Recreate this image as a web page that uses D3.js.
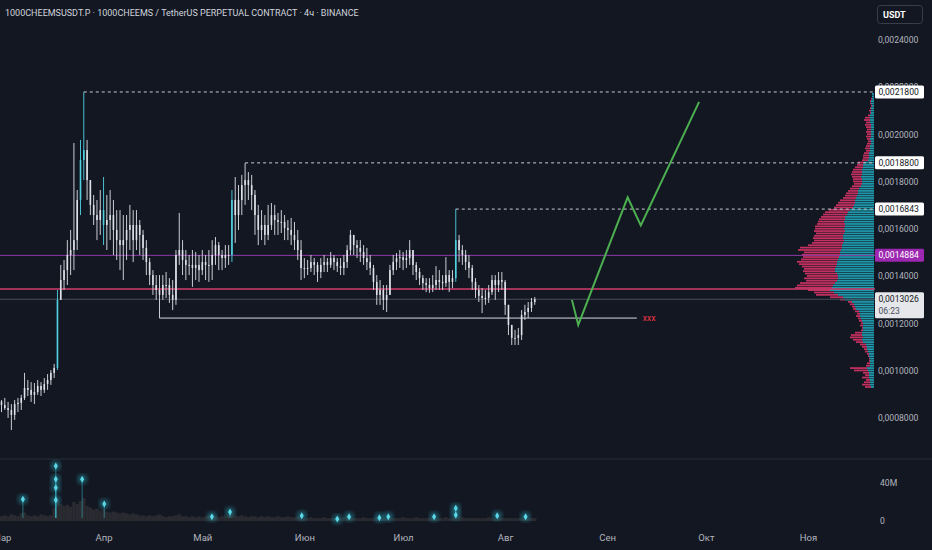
<!DOCTYPE html>
<meta charset="utf-8">
<script src="https://d3js.org/d3.v7.min.js"></script>
<style>
body { margin: 0; background: #131722; }
svg { display: block; }
text { font-family: Roboto, "Noto Sans", sans-serif; }
</style>
<div id="chart"></div>
<script>
const W = 932, H = 550;

// daily bars from 1 March 2024
const startDate = new Date(2024, 2, 1);
const firstOpen = 0.000870;
const highs = [
  0.000876,0.000885,0.000868,0.000859,0.000876,0.000885,0.000898,0.000991,0.000961,0.000952,
  0.000948,0.000961,0.000952,0.000969,0.000986,0.001003,0.001029,0.001342,0.001448,0.001469,
  0.001553,0.001596,0.001964,0.001765,0.001977,0.002180,0.001977,0.001807,0.001744,0.001723,
  0.001765,0.001820,0.001744,0.001765,0.001723,0.001680,0.001680,0.001659,0.001659,0.001702,
  0.001680,0.001680,0.001638,0.001596,0.001553,0.001477,0.001426,0.001405,0.001405,0.001405,
  0.001418,0.001392,0.001384,0.001511,0.001668,0.001553,0.001511,0.001490,0.001511,0.001503,
  0.001490,0.001511,0.001490,0.001511,0.001553,0.001566,0.001545,0.001511,0.001532,0.001532,
  0.001765,0.001820,0.001786,0.001829,0.001879,0.001841,0.001829,0.001765,0.001702,0.001680,
  0.001659,0.001702,0.001710,0.001702,0.001668,0.001680,0.001659,0.001638,0.001647,0.001630,
  0.001596,0.001553,0.001477,0.001469,0.001490,0.001477,0.001460,0.001477,0.001490,0.001477,
  0.001503,0.001490,0.001477,0.001477,0.001490,0.001532,0.001596,0.001575,0.001553,0.001553,
  0.001532,0.001520,0.001490,0.001448,0.001405,0.001384,0.001363,0.001363,0.001448,0.001490,
  0.001498,0.001511,0.001503,0.001511,0.001553,0.001511,0.001460,0.001435,0.001405,0.001392,
  0.001392,0.001405,0.001443,0.001426,0.001405,0.001481,0.001426,0.001426,0.001685,0.001575,
  0.001532,0.001511,0.001490,0.001448,0.001392,0.001363,0.001350,0.001342,0.001363,0.001405,
  0.001405,0.001418,0.001418,0.001384,0.001279,0.001194,0.001173,0.001181,0.001257,0.001279,
  0.001291,0.001308,0.001312
];
const lows = [
  0.000825,0.000834,0.000800,0.000749,0.000792,0.000825,0.000834,0.000876,0.000893,0.000868,
  0.000859,0.000898,0.000893,0.000906,0.000919,0.000940,0.000969,0.001003,0.001300,0.001342,
  0.001363,0.001405,0.001426,0.001511,0.001659,0.001807,0.001723,0.001659,0.001617,0.001553,
  0.001575,0.001532,0.001511,0.001553,0.001490,0.001469,0.001426,0.001384,0.001469,0.001511,
  0.001460,0.001511,0.001490,0.001469,0.001405,0.001363,0.001321,0.001300,0.001223,0.001300,
  0.001308,0.001287,0.001257,0.001279,0.001448,0.001405,0.001384,0.001405,0.001355,0.001384,
  0.001376,0.001405,0.001384,0.001376,0.001384,0.001448,0.001426,0.001426,0.001435,0.001448,
  0.001460,0.001541,0.001596,0.001659,0.001702,0.001723,0.001680,0.001575,0.001532,0.001553,
  0.001532,0.001553,0.001596,0.001575,0.001575,0.001583,0.001553,0.001553,0.001532,0.001511,
  0.001469,0.001384,0.001392,0.001405,0.001418,0.001405,0.001376,0.001392,0.001418,0.001418,
  0.001435,0.001426,0.001418,0.001405,0.001405,0.001435,0.001490,0.001490,0.001477,0.001460,
  0.001448,0.001426,0.001405,0.001342,0.001279,0.001279,0.001257,0.001249,0.001321,0.001405,
  0.001426,0.001435,0.001426,0.001435,0.001448,0.001405,0.001384,0.001363,0.001342,0.001333,
  0.001330,0.001333,0.001342,0.001342,0.001342,0.001355,0.001333,0.001350,0.001376,0.001460,
  0.001448,0.001426,0.001392,0.001342,0.001308,0.001291,0.001244,0.001279,0.001287,0.001321,
  0.001300,0.001333,0.001342,0.001236,0.001151,0.001109,0.001109,0.001109,0.001130,0.001215,
  0.001223,0.001249,0.001279
];
const closes = [
  0.000855,0.000842,0.000834,0.000813,0.000859,0.000864,0.000885,0.000927,0.000919,0.000898,
  0.000910,0.000936,0.000919,0.000944,0.000961,0.000991,0.001012,0.001300,0.001384,0.001426,
  0.001490,0.001511,0.001553,0.001723,0.001892,0.001934,0.001807,0.001702,0.001659,0.001638,
  0.001680,0.001617,0.001638,0.001659,0.001596,0.001553,0.001532,0.001553,0.001596,0.001617,
  0.001553,0.001617,0.001575,0.001520,0.001460,0.001405,0.001363,0.001342,0.001321,0.001363,
  0.001363,0.001321,0.001300,0.001490,0.001511,0.001469,0.001448,0.001448,0.001435,0.001448,
  0.001426,0.001460,0.001448,0.001448,0.001490,0.001532,0.001490,0.001477,0.001490,0.001490,
  0.001723,0.001659,0.001723,0.001786,0.001807,0.001786,0.001744,0.001659,0.001596,0.001617,
  0.001575,0.001617,0.001659,0.001638,0.001630,0.001630,0.001604,0.001596,0.001575,0.001553,
  0.001511,0.001435,0.001435,0.001435,0.001460,0.001448,0.001418,0.001448,0.001460,0.001448,
  0.001477,0.001460,0.001443,0.001435,0.001460,0.001511,0.001575,0.001532,0.001520,0.001503,
  0.001477,0.001460,0.001435,0.001376,0.001321,0.001342,0.001300,0.001321,0.001426,0.001460,
  0.001477,0.001481,0.001469,0.001477,0.001511,0.001448,0.001418,0.001392,0.001371,0.001363,
  0.001350,0.001363,0.001384,0.001376,0.001371,0.001405,0.001376,0.001392,0.001553,0.001511,
  0.001490,0.001460,0.001435,0.001376,0.001342,0.001317,0.001308,0.001308,0.001333,0.001384,
  0.001363,0.001384,0.001376,0.001279,0.001194,0.001139,0.001139,0.001151,0.001236,0.001249,
  0.001266,0.001291,0.0013026
];
const cyanBars = [17, 24, 25, 31, 70, 138];

// daily volume, millions
const volumes = [
  5,6,5,7,6,5,8,9,6,5,6,5,7,6,5,6,
  14,22,18,16,17,15,20,18,21,24,16,14,12,13,11,
  12,10,9,10,9,8,9,8,7,8,7,6,
  6,5,6,5,6,7,5,4,5,5,6,7,5,5,4,5,4,5,
  4,5,6,7,5,4,5,6,7,8,6,5,6,5,4,5,5,4,5,4,5,4,4,5,4,4,5,4,4,5,
  4,3,3,4,3,3,3,4,3,3,3,4,3,4,5,4,3,3,3,4,3,3,3,4,3,3,3,3,3,3,3,4,3,3,3,4,
  3,3,3,3,4,3,3,3,4,3,3,4,5,4,3,3,3,3,3,3,3,4,3,3,4,3,3,3,3,3,3,3,4,3,3,3
];
// volume spike markers
const markDates = ["2024-03-07T12:00","2024-03-17T12:00","2024-03-17T12:00","2024-03-17T12:00","2024-03-17T12:00",
  "2024-03-25T12:00","2024-04-01T05:00","2024-05-03T22:00","2024-05-09T10:00","2024-05-31T05:00",
  "2024-06-11T00:00","2024-06-14T14:00","2024-06-23T19:00","2024-06-26T12:00","2024-07-10T10:00",
  "2024-07-17T00:00","2024-07-17T00:00","2024-07-29T14:00","2024-08-07T05:00"];
const markVols = [23,58,44,35,22,44,18,4.5,9.5,5.6,2.1,4.5,3.5,4.5,4.5,13.4,6.3,5.6,4.5];

// volume profile, top row 0.00217, row step 0.00001
const profileTop = 0.00217, profileStep = 0.00001;
const profileUp = [
  2,2,2,3,3,2,3,3,3,4,4,4,4,3,3,3,3,3,3,4,3,3,4,4,4,5,5,5,6,10,
  11,11,12,12,12,13,12,12,12,13,15,16,16,17,18,19,19,20,21,24,
  26,27,29,29,30,29,29,30,29,30,31,31,30,31,32,32,33,34,34,35,
  36,37,37,38,39,39,37,36,36,37,39,41,42,44,40,36,31,29,22,20,
  19,18,15,14,14,13,12,11,11,11,11,12,12,11,12,11,8,7,7,6,
  5,5,4,4,4,4,7,6,5,5,5,4,4,4,3
];
const profileDown = [
  0,0,1,1,1,1,1,2,1,2,5,6,4,6,5,4,5,4,5,3,3,4,4,5,4,5,6,6,6,6,
  6,8,9,10,11,9,9,9,8,9,9,10,12,12,13,15,17,18,19,21,
  23,24,24,26,26,28,30,29,31,28,29,30,30,31,34,42,43,36,38,36,
  37,40,38,34,31,32,32,31,34,31,35,36,37,22,20,22,13,5,4,4,
  3,3,4,3,4,3,3,2,3,1,2,7,11,13,9,7,6,5,3,3,
  2,1,1,1,3,4,17,14,6,4,7,4,6,8,6
];

// levels
const peakDates = ["2024-03-26", "2024-05-14", "2024-07-17"];
const peakPrices = [0.00218, 0.00188, 0.0016843];
const purpleLevel = 0.0014884;
const pocLevel = 0.001346;
const lastPrice = 0.0013026;
const supportStart = "2024-04-18", supportEnd = "2024-09-10", supportPrice = 0.001223;

// projected path
const pathDates = ["2024-08-21T07:00","2024-08-23T05:00","2024-09-07T05:00","2024-09-11T05:00","2024-09-28T22:00"];
const pathPrices = [0.0013, 0.001194, 0.001734, 0.001615, 0.002138];

const priceTicks = [0.0024, 0.0022, 0.002, 0.0018, 0.0016, 0.0014, 0.0012, 0.001, 0.0008];
const monthLabels = ["Мар","Апр","Май","Июн","Июл","Авг","Сен","Окт","Ноя"];

const svg = d3.select("#chart").append("svg")
  .attr("width", W).attr("height", H)
  .style("background", "#131722");

const plotRight = 875, paneBottom = 458;

const x = d3.scaleTime()
  .domain([new Date(2024, 2, 1), new Date(2024, 10, 1)])
  .range([1.5, 808]);
const y = d3.scaleLinear().domain([0.0008, 0.0024]).range([418, 40]);
const yVol = d3.scaleLinear().domain([0, 40]).range([521, 483]);
const parse = d3.isoParse;
const fmt = d3.formatLocale({decimal: ",", thousands: " ", grouping: [3], currency: ["", ""]}).format(".7f");

svg.append("defs").append("clipPath").attr("id", "pane")
  .append("rect").attr("x", 0).attr("y", 0).attr("width", plotRight).attr("height", paneBottom);
svg.select("defs").append("filter").attr("id", "glow")
  .append("feGaussianBlur").attr("stdDeviation", 2.2);

const pane = svg.append("g").attr("clip-path", "url(#pane)");

// volume profile
const prof = profileUp.map((u, i) => ({p: profileTop - i * profileStep, up: u, down: profileDown[i]}));
const px = d3.scaleLinear().domain([0, 79]).range([0, 79]);
const rowH = Math.abs(y(0) - y(profileStep));
pane.append("g").selectAll("rect.pd").data(prof).join("rect")
  .attr("x", d => plotRight - 1 - px(d.up + d.down))
  .attr("y", d => y(d.p) - rowH / 2)
  .attr("width", d => px(d.down))
  .attr("height", rowH - 0.6)
  .attr("fill", "#c2305f");
pane.append("g").selectAll("rect.pu").data(prof).join("rect")
  .attr("x", d => plotRight - 1 - px(d.up))
  .attr("y", d => y(d.p) - rowH / 2)
  .attr("width", d => px(d.up))
  .attr("height", rowH - 0.6)
  .attr("fill", "#1f98ab");

// horizontal levels
const hline = (p, color, w) => pane.append("line")
  .attr("x1", 0).attr("x2", plotRight).attr("y1", y(p)).attr("y2", y(p))
  .attr("stroke", color).attr("stroke-width", w);
hline(purpleLevel, "#8e3aa6", 1);
hline(pocLevel, "#d23c6e", 1.4);
hline(lastPrice, "#4a4e5a", 1);

// peak dashed lines
peakDates.forEach((t, i) => {
  pane.append("line")
    .attr("x1", x(parse(t))).attr("x2", plotRight)
    .attr("y1", y(peakPrices[i])).attr("y2", y(peakPrices[i]))
    .attr("stroke", "#c8cad2").attr("stroke-width", 1).attr("stroke-dasharray", "3,3");
});

// support line
pane.append("line")
  .attr("x1", x(parse(supportStart))).attr("x2", x(parse(supportEnd)))
  .attr("y1", y(supportPrice)).attr("y2", y(supportPrice))
  .attr("stroke", "#d7d9e0").attr("stroke-width", 1);
pane.append("text")
  .attr("x", x(parse(supportEnd)) + 6).attr("y", y(supportPrice) + 3)
  .attr("fill", "#f23645").attr("font-size", 8.5).text("xxx");

// candles
const bars = closes.map((c, i) => ({
  t: d3.timeDay.offset(startDate, i),
  o: i ? closes[i - 1] : firstOpen,
  h: highs[i], l: lows[i], c, i
}));
const barColor = d => cyanBars.includes(d.i) ? "#4fd3e3" : "#dfe1e8";
const cg = pane.append("g");
cg.selectAll("line").data(bars).join("line")
  .attr("x1", d => x(d.t)).attr("x2", d => x(d.t))
  .attr("y1", d => y(d.h)).attr("y2", d => y(d.l))
  .attr("stroke", barColor).attr("stroke-width", 0.9);
cg.selectAll("rect").data(bars).join("rect")
  .attr("x", d => x(d.t) - 0.8)
  .attr("y", d => y(Math.max(d.o, d.c)))
  .attr("width", 1.6)
  .attr("height", d => Math.max(1, Math.abs(y(d.o) - y(d.c))))
  .attr("fill", barColor);

// projection
pane.append("path")
  .datum(pathDates.map((t, i) => [x(parse(t)), y(pathPrices[i])]))
  .attr("d", d3.line())
  .attr("fill", "none").attr("stroke", "#4caf50").attr("stroke-width", 2)
  .attr("stroke-linejoin", "miter");

// pane separator
svg.append("line").attr("x1", 0).attr("x2", W).attr("y1", 459).attr("y2", 459)
  .attr("stroke", "#2a2e39").attr("stroke-width", 1);

// volume
svg.append("g").selectAll("rect").data(volumes).join("rect")
  .attr("x", (v, i) => x(d3.timeDay.offset(startDate, i)) - 1.7)
  .attr("y", v => yVol(v))
  .attr("width", 3.4)
  .attr("height", v => yVol(0) - yVol(v))
  .attr("fill", "#2a2b31");

const marks = markDates.map((t, i) => ({t: parse(t), v: markVols[i]}));
const mg = svg.append("g");
mg.selectAll("line").data(marks).join("line")
  .attr("x1", d => x(d.t)).attr("x2", d => x(d.t))
  .attr("y1", yVol(0) - 3).attr("y2", d => yVol(d.v))
  .attr("stroke", "#3bb8c8").attr("stroke-opacity", 0.55).attr("stroke-width", 1);
mg.selectAll("circle").data(marks).join("circle")
  .attr("cx", d => x(d.t)).attr("cy", d => yVol(d.v)).attr("r", 5)
  .attr("fill", "#2aa6b8").attr("opacity", 0.45).attr("filter", "url(#glow)");
mg.selectAll("path").data(marks).join("path")
  .attr("d", d3.symbol(d3.symbolDiamond, 14))
  .attr("transform", d => `translate(${x(d.t)},${yVol(d.v)})`)
  .attr("fill", "#5ad8e8");

// volume axis labels
svg.append("text").attr("x", 880).attr("y", yVol(40) + 3).attr("fill", "#b2b5be")
  .attr("font-size", 8.6).text("40M");
svg.append("text").attr("x", 880).attr("y", yVol(0) + 3).attr("fill", "#b2b5be")
  .attr("font-size", 8.6).text("0");

// price axis
svg.append("g").selectAll("text").data(priceTicks).join("text")
  .attr("x", 878).attr("y", d => y(d) + 3)
  .attr("fill", "#b2b5be").attr("font-size", 8.6)
  .text(d => fmt(d));

// price label boxes
const box = (p, bg, fg) => {
  svg.append("rect").attr("x", 875).attr("y", y(p) - 6.5).attr("width", 49).attr("height", 13)
    .attr("rx", 1.5).attr("fill", bg);
  svg.append("text").attr("x", 878.5).attr("y", y(p) + 3).attr("fill", fg)
    .attr("font-size", 8.6).text(fmt(p));
};
peakPrices.forEach(p => box(p, "#ffffff", "#131722"));
box(purpleLevel, "#9c27b0", "#ffffff");
svg.append("rect").attr("x", 875).attr("y", y(lastPrice) - 7).attr("width", 49).attr("height", 26)
  .attr("rx", 1.5).attr("fill", "#e6e7eb");
svg.append("text").attr("x", 878.5).attr("y", y(lastPrice) + 3).attr("fill", "#131722")
  .attr("font-size", 8.6).text(fmt(lastPrice));
svg.append("text").attr("x", 878.5).attr("y", y(lastPrice) + 15).attr("fill", "#4a4e5a")
  .attr("font-size", 8.6).text("06:23");

// time axis
const months = d3.range(monthLabels.length).map(i => new Date(2024, 2 + i, 1));
const xAxis = svg.append("g").attr("transform", "translate(0,531)")
  .call(d3.axisBottom(x).tickValues(months).tickFormat((d, i) => monthLabels[i]).tickSize(0));
xAxis.select(".domain").remove();
xAxis.selectAll("text").attr("fill", "#b2b5be").attr("font-size", 9.5)
  .attr("font-family", "Roboto, sans-serif");

// currency button
svg.append("rect").attr("x", 877.5).attr("y", 5.5).attr("width", 45).attr("height", 18)
  .attr("rx", 3).attr("fill", "#131722").attr("stroke", "#3a3e4a");
svg.append("text").attr("x", 883).attr("y", 18).attr("fill", "#ffffff")
  .attr("font-size", 9).attr("font-weight", 700).text("USDT");

// title
svg.append("text").attr("x", 5).attr("y", 16).attr("fill", "#d1d4dc")
  .attr("font-size", 9)
  .text("1000CHEEMSUSDT.P · 1000CHEEMS / TetherUS PERPETUAL CONTRACT · 4ч · BINANCE");
</script>
